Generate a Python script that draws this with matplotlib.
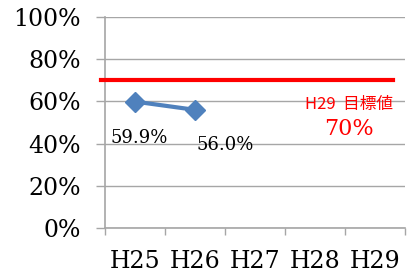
import matplotlib
matplotlib.use("Agg")
import matplotlib.pyplot as plt
import numpy as np

years = ["H25", "H26", "H27", "H28", "H29"]
rates = [0.599, 0.560]
rate_labels = ["59.9%", "56.0%"]
target = 0.70
target_title = "H29  目標値"
target_label = "70%"

BLUE = "#4F81BD"
GRID = "#A6A6A6"
SERIF = ["DejaVu Serif"]

fig = plt.figure(figsize=(4.11, 2.72), dpi=100)
ax = fig.add_axes([105 / 411, 1 - 228 / 272, 300 / 411, 211 / 272])

x = np.arange(len(years))
ax.set_xlim(-0.5, len(years) - 0.5)
ax.set_ylim(0, 1)

# gridlines + outward y ticks so they look like they run past the axis
yt = np.linspace(0, 1, 6)
ax.set_yticks(yt)
ax.set_yticklabels([f"{int(round(v * 100))}%" for v in yt],
                   fontsize=17, family=SERIF)
ax.yaxis.grid(True, color=GRID, linewidth=1)
ax.tick_params(axis="y", length=6.5, width=1, color=GRID, pad=11)

ax.set_xticks(np.arange(-0.5, len(years)), minor=False)
ax.set_xticklabels([])
ax.set_xticks(x, minor=True)
ax.set_xticklabels(years, minor=True, fontsize=17, family=SERIF)
ax.tick_params(axis="x", which="major", length=5, width=1, color=GRID)
ax.tick_params(axis="x", which="minor", length=0, pad=16)

for s in ["top", "right"]:
    ax.spines[s].set_visible(False)
for s in ["left", "bottom"]:
    ax.spines[s].set_color(GRID)
    ax.spines[s].set_linewidth(1.2)
ax.set_axisbelow(True)

ax.axhline(target, xmin=-0.013, xmax=0.96, color="#FF0000", linewidth=3,
           clip_on=False, zorder=3)

n = len(rates)
ax.plot(x[:n], rates, color=BLUE, linewidth=3, marker="D", markersize=10,
        zorder=4)

offsets = [(4, -36), (30, -35)]
for xi, r, lab, off in zip(x[:n], rates, rate_labels, offsets):
    ax.annotate(lab, (xi, r), xytext=(off[0] * 0.72, off[1] * 0.72),
                textcoords="offset points", ha="center", va="center",
                fontsize=13, family=SERIF)

ax.text(3.57, 0.585, target_title, color="#FF0000", ha="center", va="center",
        fontsize=12, family=["Noto Sans CJK JP", "DejaVu Sans"])
ax.text(3.57, 0.468, target_label, color="#FF0000", ha="center", va="center",
        fontsize=16, family=SERIF)

fig.savefig("out.png", dpi=100)
